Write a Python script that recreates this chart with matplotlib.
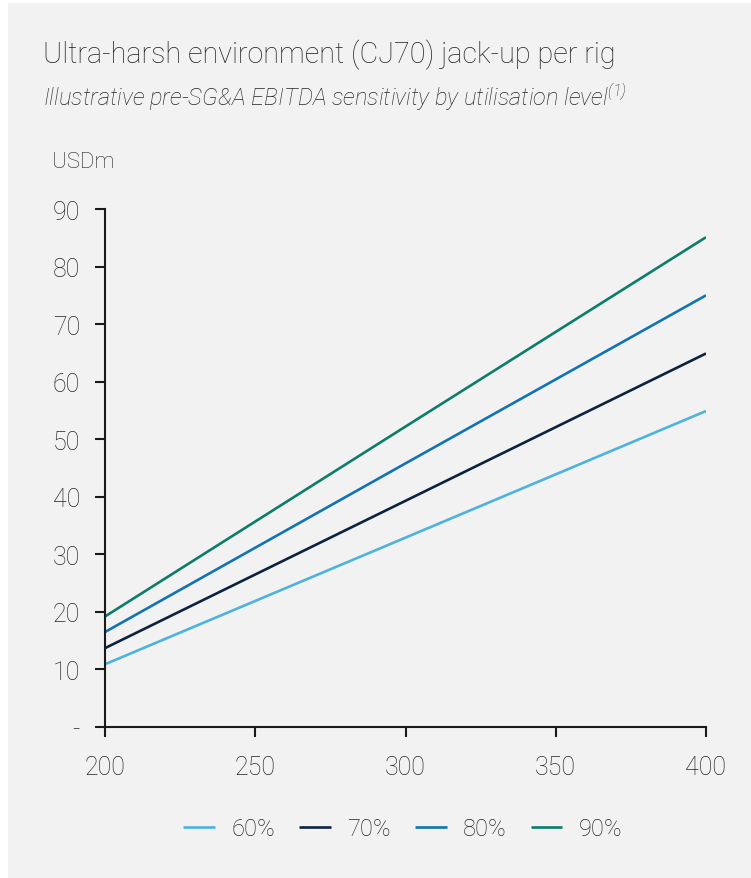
import matplotlib
matplotlib.use("Agg")
import matplotlib.pyplot as plt
from matplotlib.patches import Rectangle

# chart data
day_rates = [200, 300, 400]
series_names = ["60%", "70%", "80%", "90%"]
ebitda_60 = [10.9, 32.9, 54.9]
ebitda_70 = [13.7, 39.3, 64.9]
ebitda_80 = [16.5, 45.8, 75.0]
ebitda_90 = [19.2, 52.2, 85.1]
y_ticks = [0, 10, 20, 30, 40, 50, 60, 70, 80, 90]
y_tick_labels = ["-", "10", "20", "30", "40", "50", "60", "70", "80", "90"]
x_ticks = [200, 250, 300, 350, 400]

colors = ["#4db3de", "#0c2340", "#1173b5", "#0b7d6a"]
text_color = "#262626"
panel_color = "#f2f2f2"

plt.rcParams["font.family"] = ["Roboto", "DejaVu Sans"]
plt.rcParams["font.weight"] = "light"
plt.rcParams["mathtext.fontset"] = "custom"
plt.rcParams["mathtext.it"] = "Roboto:italic:light"
plt.rcParams["mathtext.rm"] = "Roboto:italic:light"

fig = plt.figure(figsize=(7.51, 8.79), dpi=100)
fig.patch.set_facecolor("white")
# grey panel behind the whole chart, with a thin white margin top and left
fig.patches.append(Rectangle((8 / 751, 0), 1 - 8 / 751, 1 - 4 / 879,
                             transform=fig.transFigure, facecolor=panel_color,
                             edgecolor="none", zorder=-10))

ax = fig.add_axes([105 / 751, 1 - 728 / 879, 601 / 751, 518 / 879])
ax.set_facecolor("none")

all_series = [ebitda_60, ebitda_70, ebitda_80, ebitda_90]
for name, values, c in zip(series_names, all_series, colors):
    ax.plot(day_rates, values, color=c, lw=1.9, label=name, solid_capstyle="butt")

ax.set_xlim(200, 400)
ax.set_ylim(0, 90)
ax.set_xticks(x_ticks)
ax.set_yticks(y_ticks)
ax.set_yticklabels(y_tick_labels)

for side in ["top", "right"]:
    ax.spines[side].set_visible(False)
for side in ["left", "bottom"]:
    ax.spines[side].set_linewidth(1.5)
    ax.spines[side].set_color("#1a1a1a")

ax.tick_params(axis="both", direction="out", length=7, width=1.5, color="#1a1a1a",
               labelsize=18, labelcolor=text_color)
ax.tick_params(axis="y", pad=11)
ax.tick_params(axis="x", pad=13)

fig.text(43 / 751, 1 - 55 / 879, "Ultra-harsh environment (CJ70) jack-up per rig",
         fontsize=20.7, color=text_color, va="center", ha="left")
fig.text(43 / 751, 1 - 97 / 879,
         "Illustrative pre-SG&A EBITDA sensitivity by utilisation level$^{(1)}$",
         fontsize=17, fontstyle="italic", color=text_color,
         va="center", ha="left")
fig.text(52 / 751, 1 - 163 / 879, "USDm", fontsize=16,
         color=text_color, va="center", ha="left")

leg = fig.legend(loc="center", bbox_to_anchor=(403 / 751, 1 - 830 / 879), ncol=4,
                 frameon=False, fontsize=17, handlelength=1.35, handletextpad=0.7,
                 columnspacing=1.0, labelcolor=text_color)

fig.savefig("out.png", dpi=100, facecolor=fig.get_facecolor())
